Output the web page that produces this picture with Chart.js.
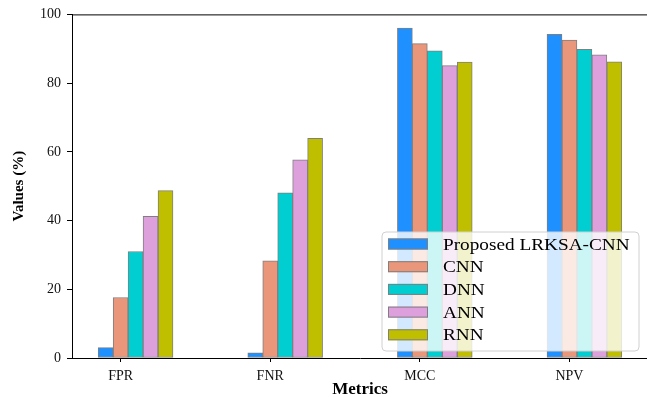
<!DOCTYPE html>
<html>
<head>
<meta charset="utf-8">
<script src="https://cdn.jsdelivr.net/npm/chart.js@4"></script>
<style>
html,body{margin:0;padding:0;overflow:hidden;background:#fff;}
#wrap{width:662px;height:397px;position:relative;}
</style>
</head>
<body>
<div id="wrap"><canvas id="c"></canvas></div>
<script>
const categories = ["FPR", "FNR", "MCC", "NPV"];
const seriesNames = ["Proposed LRKSA-CNN", "CNN", "DNN", "ANN", "RNN"];
const proposed = [3.0, 1.5, 96.0, 94.2];
const cnn = [17.6, 28.3, 91.5, 92.5];
const dnn = [31.0, 48.1, 89.4, 89.8];
const ann = [41.2, 57.7, 85.1, 88.2];
const rnn = [48.7, 63.9, 86.1, 86.2];
const yTicks = [0, 20, 40, 60, 80, 100];

const seriesValues = [proposed, cnn, dnn, ann, rnn];
const colors = ["#1e90ff", "#e9967a", "#00ced1", "#dda0dd", "#bfbf00"];
const barUnit = 0.1; // bar width in category units (matplotlib style)

const datasets = seriesValues.map((vals, k) => ({
  label: seriesNames[k],
  data: vals.map((v, i) => ({ x: i + (k - 1) * barUnit, y: v })),
  backgroundColor: colors[k],
  borderColor: "#7f7f7f",
  borderWidth: 1,
  borderSkipped: false,
  grouped: false,
  barPercentage: 1,
  categoryPercentage: 1
}));

const serif = "'Liberation Serif', 'DejaVu Serif', serif";

const framePlugin = {
  id: "frame",
  afterDraw(chart) {
    const { ctx, chartArea: a } = chart;
    ctx.save();
    ctx.strokeStyle = "#000";
    ctx.lineWidth = 1;
    ctx.beginPath();
    ctx.moveTo(a.left, a.top + 0.5);
    ctx.lineTo(a.right, a.top + 0.5);
    ctx.moveTo(a.right - 0.5, a.top);
    ctx.lineTo(a.right - 0.5, a.bottom);
    ctx.stroke();
    ctx.restore();
  }
};

const legendPlugin = {
  id: "boxLegend",
  afterDatasetsDraw(chart, args, o) {
    const { ctx } = chart;
    ctx.save();
    ctx.beginPath();
    ctx.roundRect(o.x, o.y, o.w, o.h, 4);
    ctx.fillStyle = "rgba(255,255,255,0.8)";
    ctx.fill();
    ctx.strokeStyle = "#d0d0d0";
    ctx.lineWidth = 1;
    ctx.stroke();
    chart.data.datasets.forEach((ds, k) => {
      const cy = o.y + o.firstRow + k * o.rowGap;
      ctx.fillStyle = ds.backgroundColor;
      ctx.fillRect(o.x + 6, cy - 5.5, 40, 11);
      ctx.strokeStyle = ds.borderColor;
      ctx.strokeRect(o.x + 6.5, cy - 5, 39, 10);
      ctx.save();
      ctx.translate(o.x + 61, cy + 1);
      ctx.scale(1.1, 1);
      ctx.fillStyle = "#000";
      ctx.font = "17.5px " + serif;
      ctx.textBaseline = "middle";
      ctx.textAlign = "left";
      ctx.fillText(ds.label, 0, 0);
      ctx.restore();
    });
    ctx.restore();
  }
};

new Chart(document.getElementById("c"), {
  type: "bar",
  data: { datasets },
  plugins: [framePlugin, legendPlugin],
  options: {
    responsive: true,
    maintainAspectRatio: false,
    animation: false,
    layout: { padding: { left: 10, right: 14, top: 14, bottom: 0 } },
    plugins: {
      legend: { display: false },
      tooltip: { enabled: false },
      boxLegend: { x: 382, y: 232, w: 257, h: 119, firstRow: 12, rowGap: 22.7 }
    },
    scales: {
      x: {
        type: "linear",
        min: -0.325,
        max: 3.525,
        offset: false,
        afterBuildTicks(scale) {
          scale.ticks = categories.map((_, i) => ({ value: i }));
        },
        afterFit(scale) { scale.height = 39; },
        ticks: {
          autoSkip: false,
          maxRotation: 0,
          padding: 6,
          color: "#111",
          font: { family: serif, size: 14 },
          callback: (v) => categories[v]
        },
        grid: { offset: false, drawOnChartArea: false, drawTicks: true, tickLength: 4, color: "#000" },
        border: { display: true, color: "#000", width: 1 },
        title: {
          display: true,
          text: "Metrics",
          color: "#000",
          font: { family: serif, size: 17, weight: "bold", lineHeight: 1 },
          padding: { top: 0, bottom: -1 }
        }
      },
      y: {
        min: 0,
        max: 100,
        afterBuildTicks(scale) {
          scale.ticks = yTicks.map(v => ({ value: v }));
        },
        afterFit(scale) { scale.width = 62; },
        ticks: {
          padding: 6,
          color: "#111",
          font: { family: serif, size: 14 }
        },
        grid: { offset: false, drawOnChartArea: false, drawTicks: true, tickLength: 5, color: "#000" },
        border: { display: true, color: "#000", width: 1 },
        title: {
          display: true,
          text: "Values (%)",
          color: "#000",
          font: { family: serif, size: 15, weight: "bold" },
          padding: { top: 0, bottom: 6 }
        }
      }
    }
  }
});
</script>
</body>
</html>
